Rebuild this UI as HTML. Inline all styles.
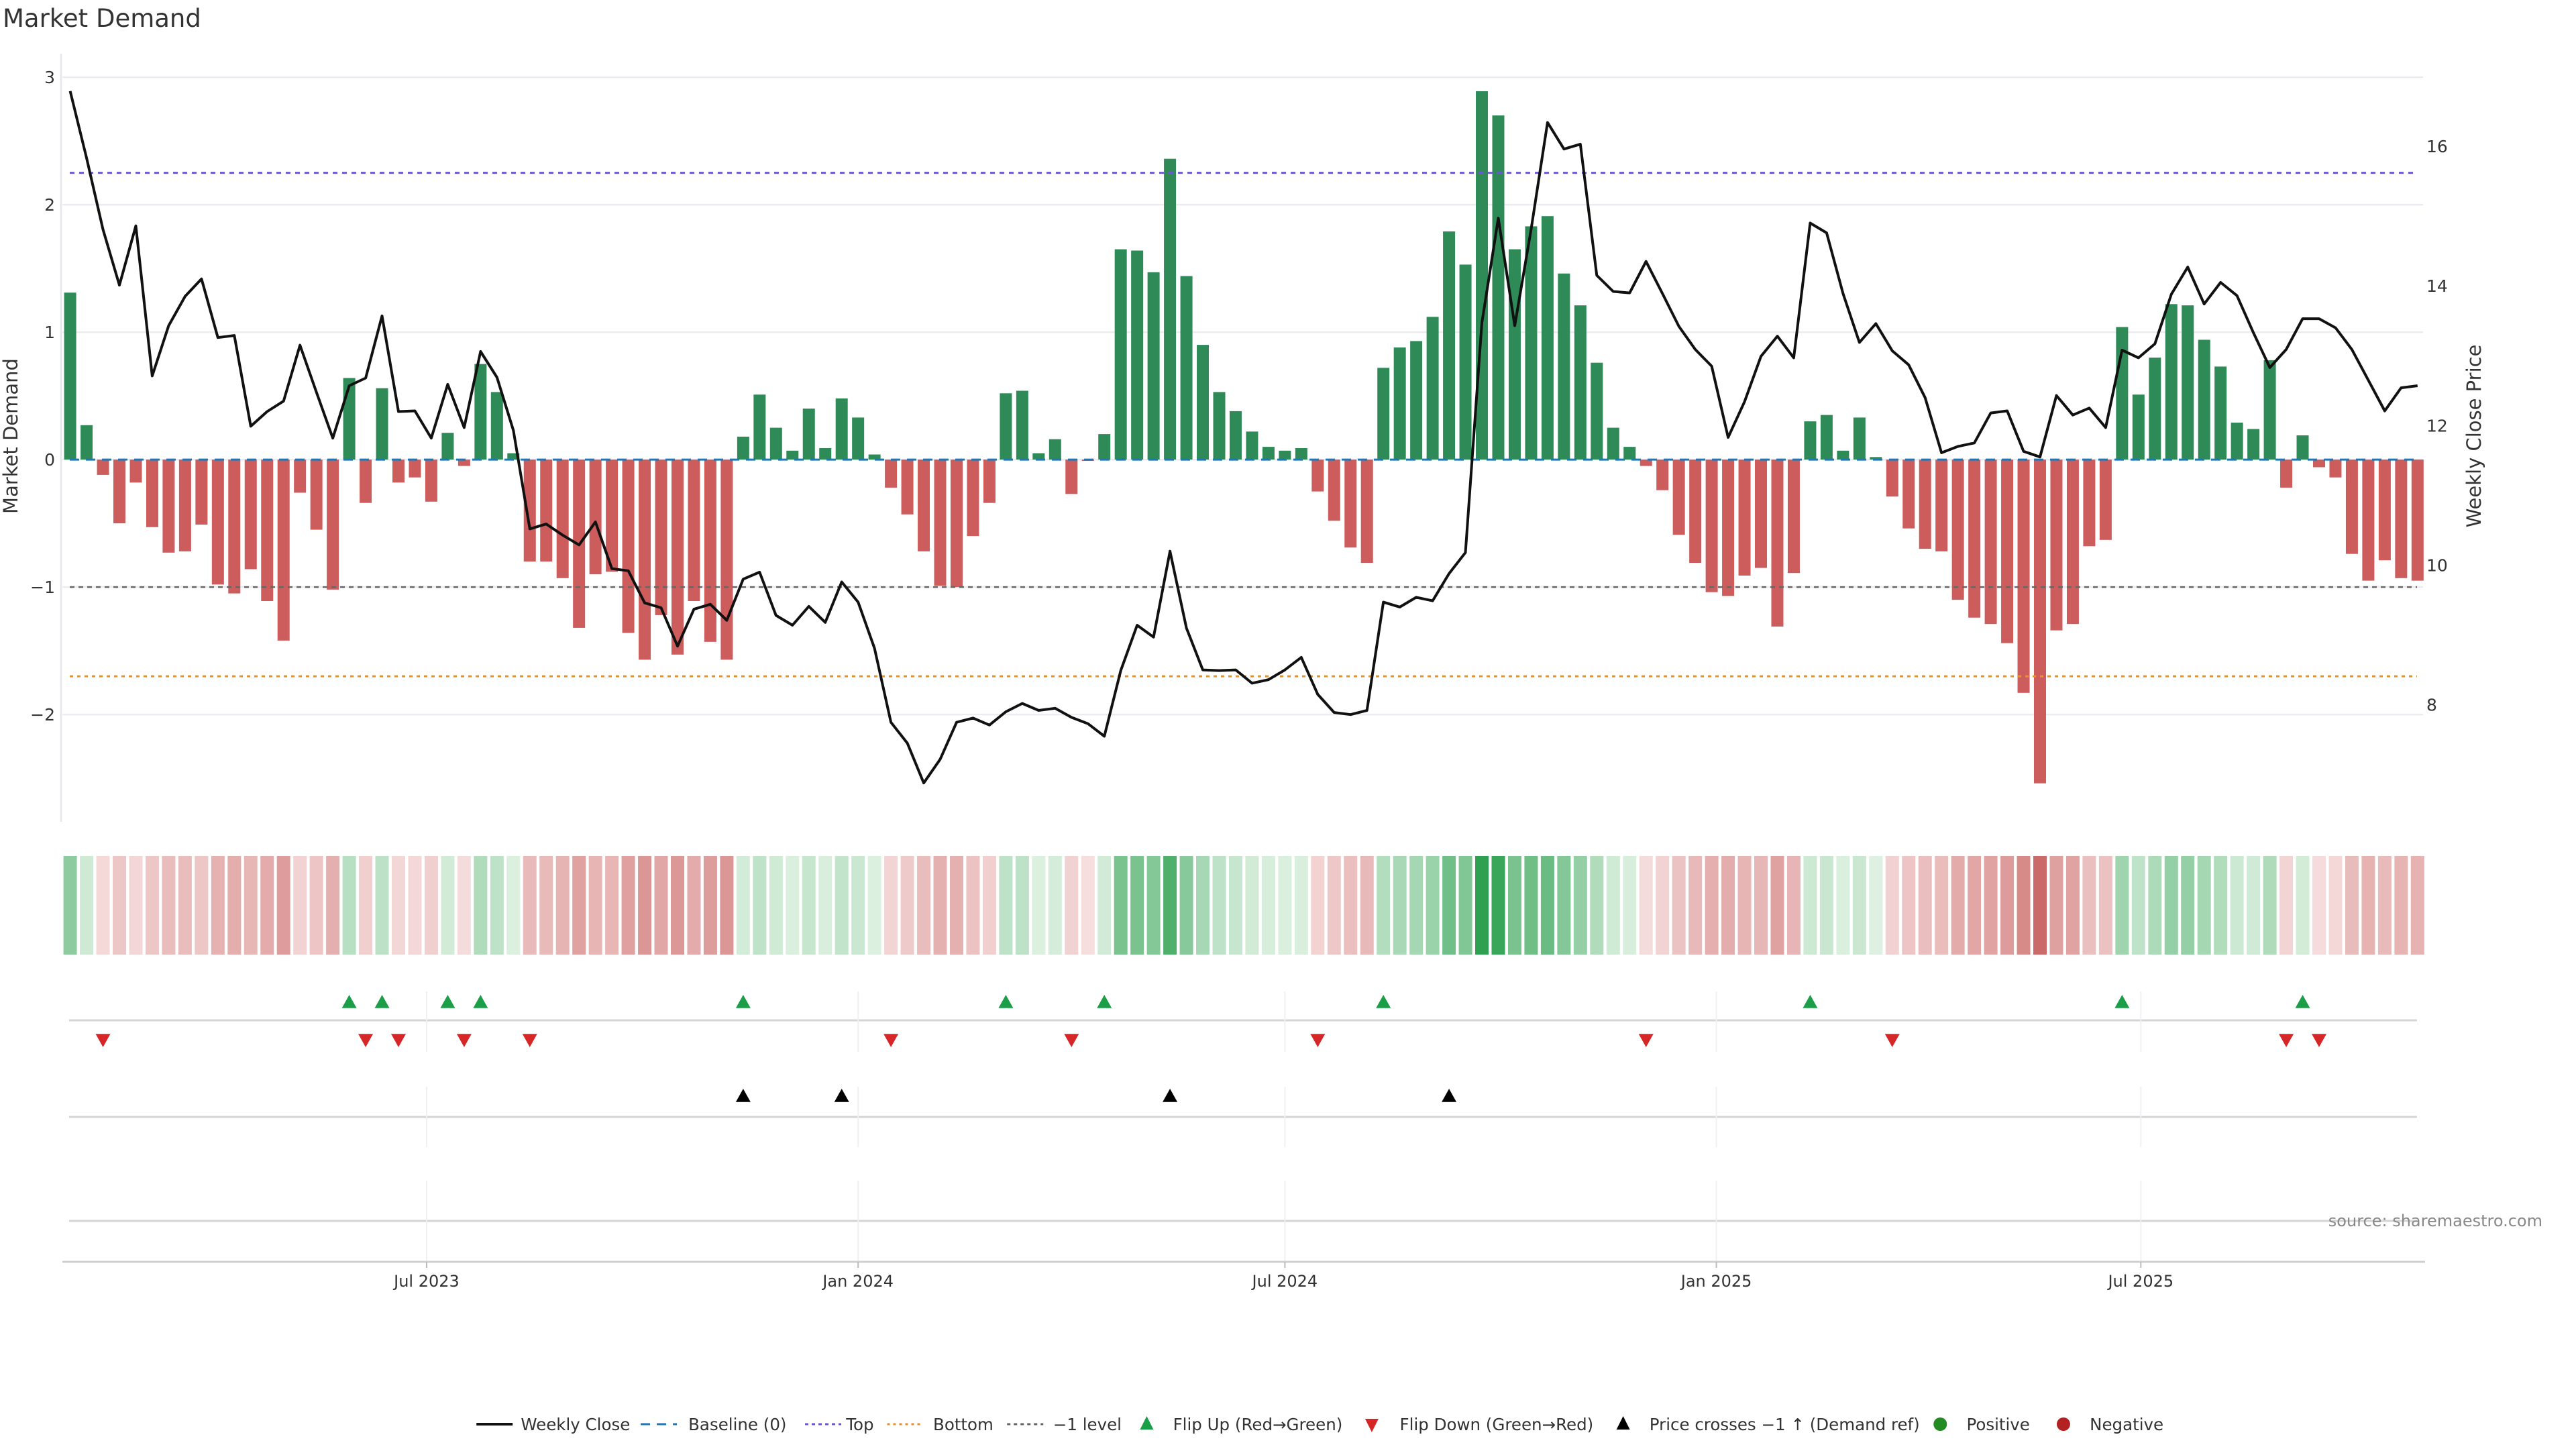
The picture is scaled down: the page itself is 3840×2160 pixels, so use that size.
<!DOCTYPE html>
<html><head><meta charset="utf-8"><title>Market Demand</title>
<style>
html,body{margin:0;padding:0;background:#fff;}
svg{display:block;font-family:"DejaVu Sans","Liberation Sans",sans-serif;}
</style></head>
<body>
<svg id="chart" width="3840" height="2160" viewBox="0 0 3840 2160" xmlns="http://www.w3.org/2000/svg">
<rect width="3840" height="2160" fill="#fff"/>
<text x="4" y="40" font-size="37" fill="#333">Market Demand</text>
<text transform="translate(26,650) rotate(-90)" text-anchor="middle" font-size="29" fill="#333">Market Demand</text>
<text transform="translate(3698,650) rotate(-90)" text-anchor="middle" font-size="29" fill="#333">Weekly Close Price</text>
<g id="grid"></g><g id="lower"></g><g id="bars"></g><g id="refs"></g><g id="price"></g><g id="heat"></g><g id="marks"></g><g id="axes"></g><g id="legend"></g>
<text x="3790" y="1828" text-anchor="end" font-size="24" fill="#888">source: sharemaestro.com</text>
</svg>
<script>
const demand = [1.31,0.27,-0.12,-0.50,-0.18,-0.53,-0.73,-0.72,-0.51,-0.98,-1.05,-0.86,-1.11,-1.42,-0.26,-0.55,-1.02,0.64,-0.34,0.56,-0.18,-0.14,-0.33,0.21,-0.05,0.75,0.53,0.05,-0.80,-0.80,-0.93,-1.32,-0.90,-0.88,-1.36,-1.57,-1.22,-1.53,-1.11,-1.43,-1.57,0.18,0.51,0.25,0.07,0.40,0.09,0.48,0.33,0.04,-0.22,-0.43,-0.72,-0.99,-1.00,-0.60,-0.34,0.52,0.54,0.05,0.16,-0.27,-0.01,0.20,1.65,1.64,1.47,2.36,1.44,0.90,0.53,0.38,0.22,0.10,0.07,0.09,-0.25,-0.48,-0.69,-0.81,0.72,0.88,0.93,1.12,1.79,1.53,2.89,2.70,1.65,1.83,1.91,1.46,1.21,0.76,0.25,0.10,-0.05,-0.24,-0.59,-0.81,-1.04,-1.07,-0.91,-0.85,-1.31,-0.89,0.30,0.35,0.07,0.33,0.02,-0.29,-0.54,-0.70,-0.72,-1.10,-1.24,-1.29,-1.44,-1.83,-2.54,-1.34,-1.29,-0.68,-0.63,1.04,0.51,0.80,1.22,1.21,0.94,0.73,0.29,0.24,0.78,-0.22,0.19,-0.06,-0.14,-0.74,-0.95,-0.79,-0.93,-0.95];
const closePrice = [16.79,15.83,14.81,14.01,14.86,12.71,13.43,13.85,14.10,13.26,13.29,11.99,12.20,12.35,13.15,12.48,11.82,12.57,12.68,13.57,12.20,12.21,11.82,12.59,11.97,13.06,12.69,11.93,10.52,10.59,10.43,10.29,10.62,9.95,9.92,9.46,9.39,8.84,9.37,9.44,9.21,9.80,9.90,9.28,9.14,9.41,9.18,9.76,9.47,8.81,7.75,7.45,6.88,7.22,7.75,7.81,7.71,7.90,8.02,7.92,7.95,7.82,7.73,7.55,8.49,9.14,8.97,10.20,9.10,8.50,8.49,8.50,8.31,8.36,8.50,8.68,8.15,7.89,7.86,7.92,9.47,9.40,9.54,9.49,9.88,10.18,13.47,14.97,13.43,14.81,16.34,15.96,16.03,14.15,13.92,13.90,14.35,13.89,13.42,13.09,12.85,11.83,12.34,12.99,13.28,12.97,14.90,14.76,13.89,13.19,13.46,13.07,12.87,12.40,11.61,11.70,11.75,12.18,12.21,11.63,11.55,12.43,12.15,12.25,11.97,13.08,12.97,13.17,13.88,14.27,13.74,14.05,13.86,13.33,12.83,13.09,13.53,13.53,13.40,13.09,12.65,12.21,12.54,12.57];
const startDate = "2023-01-30";
const leftTicks = [3,2,1,0,-1,-2];
const rightTicks = [16,14,12,10,8];
const dateTicks = ["2023-07-01","2024-01-01","2024-07-01","2025-01-01","2025-07-01"];
const dateTickLabels = ["Jul 2023","Jan 2024","Jul 2024","Jan 2025","Jul 2025"];
const topLevel = 2.25, bottomLevel = -1.7, negLevel = -1;

const NS="http://www.w3.org/2000/svg";
function mk(parent, tag, attrs){const e=document.createElementNS(NS,tag);for(const k in attrs)e.setAttribute(k,attrs[k]);document.getElementById(parent).appendChild(e);return e;}
const X0=104.6, STEP=24.47;
const t0=Date.parse(startDate+"T00:00:00Z");
function xIdx(i){return X0+i*STEP;}
function xDate(s){return X0+(Date.parse(s+"T00:00:00Z")-t0)/(7*86400000)*STEP;}
function yD(v){return 685.1-v*190;}
function yP(p){return 218+(16-p)*104.08;}
function pFromY(y){return 16-(y-218)/104.08;}
const PL=93, PR=3612;

leftTicks.forEach(v=>{
  let g=mk('grid','line',{x1:PL,x2:PR,y1:yD(v),y2:yD(v),stroke:'#ececf0','stroke-width':2.5});
  
  
  let t=mk('axes','text',{x:82,y:yD(v)+9,'text-anchor':'end','font-size':25,fill:'#333'});
  t.textContent=(v<0?'\u2212'+Math.abs(v):String(v));
  
  
});
rightTicks.forEach(p=>{
  let t=mk('axes','text',{x:3617,y:yP(p)+9,'font-size':25,fill:'#333'});
  t.textContent=String(p);
  
  
});
let ax=mk('axes','line',{x1:91,x2:91,y1:80,y2:1225,stroke:'#e6e6ea','stroke-width':2.5});



demand.forEach((v,i)=>{
  const y=yD(Math.max(v,0)), h=Math.abs(yD(v)-yD(0));
  let r=mk('bars','rect',{x:xIdx(i)-9,y:y,width:18,height:Math.max(h,0.5),fill:v>=0?'#2e8b57':'#cd5c5c'});
  
  
});

let bl=mk('refs','line',{x1:104,x2:3603,y1:yD(0),y2:yD(0),stroke:'#1f77b4','stroke-width':3,'stroke-dasharray':'14 10'});


let tl=mk('refs','line',{x1:104,x2:3603,y1:yD(topLevel),y2:yD(topLevel),stroke:'#6a5acd','stroke-width':3,'stroke-dasharray':'7 7'});


let bo=mk('refs','line',{x1:104,x2:3603,y1:yD(bottomLevel),y2:yD(bottomLevel),stroke:'#e8912d','stroke-width':3,'stroke-dasharray':'5 6'});


let nl=mk('refs','line',{x1:104,x2:3603,y1:yD(negLevel),y2:yD(negLevel),stroke:'#666','stroke-width':2.5,'stroke-dasharray':'7 6'});



let pts=closePrice.map((p,i)=>xIdx(i).toFixed(1)+','+yP(p).toFixed(1)).join(' ');
let pl=mk('price','polyline',{points:pts,fill:'none',stroke:'#111','stroke-width':4,'stroke-linejoin':'round'});



function lerp(a,b,t){return a.map((c,k)=>Math.round(c+(b[k]-c)*t));}
demand.forEach((v,i)=>{
  const t=Math.min(Math.abs(v)/2.9,1);
  const c=v>=0?lerp([222,241,226],[46,160,80],t):lerp([246,222,222],[196,90,88],t);
  let r=mk('heat','rect',{x:xIdx(i)-10,y:1276,width:20,height:147,fill:'rgb('+c.join(',')+')'});
  
  
});

[[1521,103,3603],[1665,103,3603],[1820,103,3603]].forEach(a=>{
  let l=mk('lower','line',{x1:a[1],x2:a[2],y1:a[0],y2:a[0],stroke:'#d4d4d4','stroke-width':3});
  
  
});
let xa=mk('axes','line',{x1:PL,x2:3615,y1:1881,y2:1881,stroke:'#d0d0d0','stroke-width':3});


dateTicks.forEach((d,k)=>{
  const x=xDate(d);
  [[1478,1568],[1620,1710],[1760,1881]].forEach(s=>{
    let v=mk('lower','line',{x1:x,x2:x,y1:s[0],y2:s[1],stroke:'#eef0f4','stroke-width':2});
    
    
  });
  let tk=mk('axes','line',{x1:x,x2:x,y1:1881,y2:1890,stroke:'#bbb','stroke-width':2});
  
  
  let t=mk('axes','text',{x:x,y:1918,'text-anchor':'middle','font-size':24,fill:'#333'});
  t.textContent=dateTickLabels[k];
  
  
});

function tri(x,y,up,color,name){
  const s=11;
  const p=up?[x,y-s,x-s,y+s*0.8,x+s,y+s*0.8]:[x,y+s,x-s,y-s*0.8,x+s,y-s*0.8];
  let e=mk('marks','polygon',{points:p.join(','),fill:color});
  
  
}
const crossLvl=pFromY(yD(negLevel));
for(let i=1;i<demand.length;i++){
  if(demand[i-1]<0&&demand[i]>0) tri(xIdx(i),1494,true,'#1a9e48','flip-up-marker');
  if(demand[i-1]>0&&demand[i]<0) tri(xIdx(i),1550,false,'#d62728','flip-down-marker');
  if(closePrice[i-1]<crossLvl&&closePrice[i]>=crossLvl) tri(xIdx(i),1634,true,'#000','price-cross-marker');
}

const LY=2123;
function lg(x){return x*2.449;}
function ltext(x,s){let t=mk('legend','text',{x:lg(x),y:LY+9,'font-size':24.5,fill:'#333'});t.textContent=s;}
function lline(x,stroke,dash,w){let l=mk('legend','line',{x1:lg(x),x2:lg(x)+54,y1:LY,y2:LY,stroke:stroke,'stroke-width':w,'stroke-dasharray':dash});}
lline(290,'#111','none',4); ltext(317,'Weekly Close');
lline(390,'#1f77b4','14 10',3); ltext(419,'Baseline (0)');
lline(490,'#6a5acd','5 5',3); ltext(515,'Top');
lline(540,'#e8912d','4 5',3); ltext(568,'Bottom');
lline(613,'#666','5 5',3); ltext(641,'\u22121 level');
function ltri(x,up,c){const X=lg(x),s=10;const p=up?[X,LY-s-2,X-s,LY+s-2,X+s,LY+s-2]:[X,LY+s+2,X-s,LY-s+2,X+s,LY-s+2];let e=mk('legend','polygon',{points:p.join(','),fill:c});}
ltri(698,true,'#1a9e48'); ltext(714,'Flip Up (Red\u2192Green)');
ltri(835,false,'#d62728'); ltext(852,'Flip Down (Green\u2192Red)');
ltri(988,true,'#000'); ltext(1004,'Price crosses \u22121 \u2191 (Demand ref)');
function ldot(x,c){let e=mk('legend','circle',{cx:lg(x),cy:LY,r:10,fill:c});}
ldot(1181,'#228b22'); ltext(1197,'Positive');
ldot(1256,'#b22222'); ltext(1272,'Negative');
</script>
</body></html>
